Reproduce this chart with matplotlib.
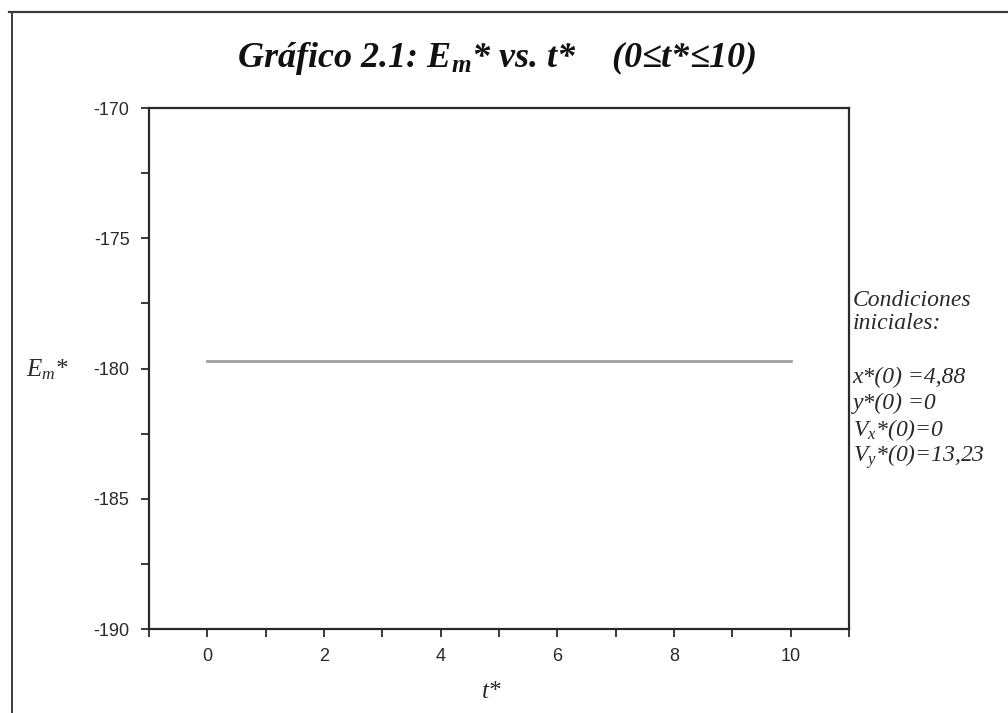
import numpy as np
import matplotlib.pyplot as plt
from matplotlib.lines import Line2D
from matplotlib.ticker import MultipleLocator

plt.rcParams['mathtext.fontset'] = 'custom'
plt.rcParams['mathtext.it'] = 'Liberation Serif:italic'
plt.rcParams['mathtext.rm'] = 'Liberation Serif'
plt.rcParams['mathtext.bfit'] = 'Liberation Serif:italic:bold'
plt.rcParams['axes.unicode_minus'] = False

# datos
t = [0, 2, 4, 6, 8, 10]
Em = [-179.7, -179.7, -179.7, -179.7, -179.7, -179.7]
xticks = [0, 2, 4, 6, 8, 10]
yticks = [-190, -185, -180, -175, -170]
condiciones = ["Condiciones", "iniciales:", "x*(0) =4,88", "y*(0) =0",
               r"$V_x$*(0)=0", r"$V_y$*(0)=13,23"]
pos_y = [300, 323, 377, 403, 430, 457]  # pixeles desde arriba

serif = ['Liberation Serif', 'DejaVu Serif']
tinta = '#2a2a2a'

fig = plt.figure(figsize=(10.08, 7.13), dpi=100)
ax = fig.add_axes([0.1478, 0.1178, 0.6945, 0.7307])

ax.plot(t, Em, color='#a0a0a0', lw=2.0)
ax.set_xlim(-1, 11)
ax.set_ylim(-190, -170)
ax.set_xticks(xticks)
ax.set_yticks(yticks)
ax.xaxis.set_minor_locator(MultipleLocator(1))
ax.yaxis.set_minor_locator(MultipleLocator(2.5))
ax.tick_params(which='both', direction='out', length=6, width=1.3, color=tinta,
               labelsize=13, labelcolor=tinta, pad=8)
for lab in ax.get_xticklabels() + ax.get_yticklabels():
    lab.set_family('Liberation Sans')
for s in ax.spines.values():
    s.set_color(tinta)
    s.set_linewidth(1.6)

fig.text(0.751, 0.918, r"Gráfico 2.1: $\mathbfit{E}_{\mathbfit{m}}$* vs. t*    (0≤t*≤10)",
         ha='right', va='center', family=serif, style='italic', weight='bold',
         fontsize=26, color='#111111')
fig.text(0.047, 0.482, r"$E_m$*", ha='center', va='center', family=serif,
         style='italic', fontsize=18, color=tinta)
fig.text(0.488, 0.03, "t*", ha='center', va='center', family=serif,
         style='italic', fontsize=18, color=tinta)

for linea, py in zip(condiciones, pos_y):
    fig.text(0.846, 1 - py / 713, linea, ha='left', va='center', family=serif,
             style='italic', fontsize=17, color=tinta)

# marco exterior del escaneo
fig.add_artist(Line2D([0.009, 1.0], [0.983, 0.983], transform=fig.transFigure,
                      color='#3a3a3a', lw=1.6))
fig.add_artist(Line2D([0.012, 0.012], [0.0, 0.983], transform=fig.transFigure,
                      color='#3a3a3a', lw=1.4))

fig.savefig('out.png', dpi=100)
